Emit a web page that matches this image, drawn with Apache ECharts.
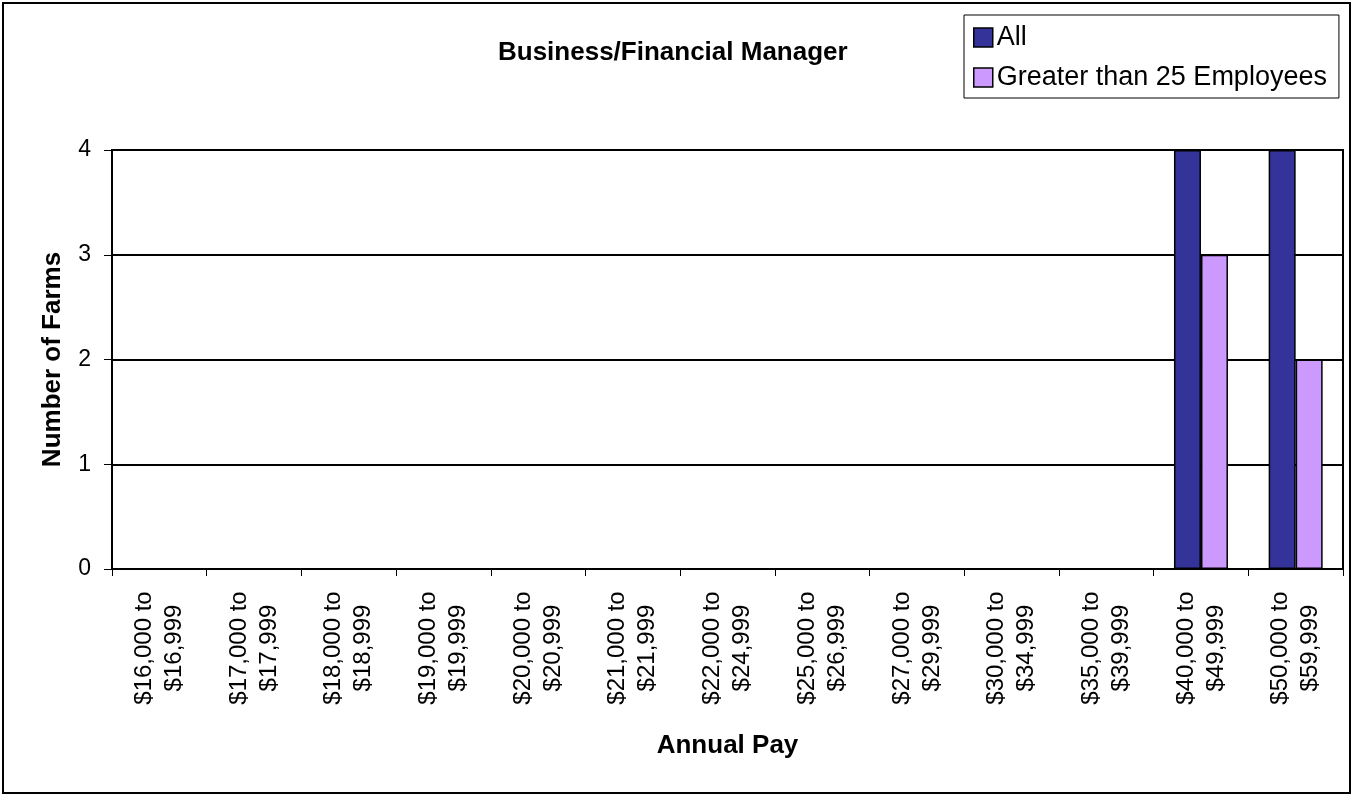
<!DOCTYPE html>
<html>
<head>
<meta charset="utf-8">
<title>Business/Financial Manager</title>
<script src="https://cdn.jsdelivr.net/npm/echarts@6/dist/echarts.min.js"></script>
<style>
  html, body { margin: 0; padding: 0; background: #fff; }
  #chart { width: 1358px; height: 795px; }
</style>
</head>
<body>
<div id="chart"></div>
<script>
// pay bands on the x axis
const payBands = [
  '$16,000 to\n$16,999', '$17,000 to\n$17,999', '$18,000 to\n$18,999',
  '$19,000 to\n$19,999', '$20,000 to\n$20,999', '$21,000 to\n$21,999',
  '$22,000 to\n$24,999', '$25,000 to\n$26,999', '$27,000 to\n$29,999',
  '$30,000 to\n$34,999', '$35,000 to\n$39,999', '$40,000 to\n$49,999',
  '$50,000 to\n$59,999'
];
// number of farms per band
const allFarms = [0, 0, 0, 0, 0, 0, 0, 0, 0, 0, 0, 4, 4];
const bigFarms = [0, 0, 0, 0, 0, 0, 0, 0, 0, 0, 0, 3, 2];
const seriesNames = ['All', 'Greater than 25 Employees'];
const yTicks = [0, 1, 2, 3, 4];

const chart = echarts.init(document.getElementById('chart'));
const font = 'Liberation Sans, Arial, sans-serif';

const option = {
  animation: false,
  backgroundColor: '#fff',
  textStyle: { fontFamily: font, color: '#000' },
  title: {
    text: 'Business/Financial Manager',
    left: 498,
    top: 40,
    padding: 0,
    textStyle: { fontFamily: font, fontSize: 26, fontWeight: 'bold', color: '#000' }
  },
  legend: {
    orient: 'vertical',
    left: 964,
    top: 15,
    padding: [9, 12, 7, 9],
    itemGap: 13,
    itemWidth: 19,
    itemHeight: 19,
    icon: 'rect',
    backgroundColor: '#fff',
    borderColor: '#000',
    borderWidth: 1,
    borderRadius: 0,
    itemStyle: { borderColor: '#000', borderWidth: 1.5 },
    textStyle: { fontFamily: font, fontSize: 27, color: '#000', padding: [0, 0, 0, -1] },
    data: seriesNames
  },
  grid: {
    left: 112,
    right: 15,
    top: 150,
    bottom: 226,
    show: true,
    borderColor: '#000',
    borderWidth: 2,
    containLabel: false
  },
  xAxis: {
    type: 'category',
    data: payBands,
    name: 'Annual Pay',
    nameLocation: 'middle',
    nameGap: 164,
    nameTextStyle: { fontFamily: font, fontSize: 26, fontWeight: 'bold', color: '#000' },
    axisLine: { lineStyle: { color: '#000', width: 2 } },
    axisTick: { show: true, length: 7, lineStyle: { color: '#000', width: 1 } },
    axisLabel: {
      rotate: 90,
      interval: 0,
      align: 'center',
      verticalAlign: 'middle',
      margin: 79,
      fontFamily: font,
      fontSize: 24,
      lineHeight: 30,
      color: '#000'
    }
  },
  yAxis: {
    type: 'value',
    min: yTicks[0],
    max: yTicks[yTicks.length - 1],
    interval: 1,
    name: 'Number of Farms',
    nameLocation: 'middle',
    nameGap: 46,
    nameRotate: 90,
    nameTextStyle: { fontFamily: font, fontSize: 26, fontWeight: 'bold', color: '#000' },
    axisLine: { show: true, lineStyle: { color: '#000', width: 2 } },
    axisTick: { show: true, length: 8, lineStyle: { color: '#000', width: 1 } },
    axisLabel: { margin: 21, fontFamily: font, fontSize: 23, color: '#000' },
    splitLine: { show: true, lineStyle: { color: '#000', width: 2 } }
  },
  series: [
    {
      name: seriesNames[0],
      type: 'bar',
      data: allFarms,
      barWidth: 27,
      barGap: '0%',
      itemStyle: { color: '#333399', borderColor: '#000', borderWidth: 1.5 }
    },
    {
      name: seriesNames[1],
      type: 'bar',
      data: bigFarms,
      barWidth: 27,
      barGap: '0%',
      itemStyle: { color: '#CC99FF', borderColor: '#000', borderWidth: 1.5 }
    }
  ],
  graphic: [
    {
      // outer chart frame
      type: 'rect',
      silent: true,
      z: 100,
      shape: { x: 3, y: 3, width: 1347, height: 790 },
      style: { fill: 'none', stroke: '#000', lineWidth: 2 }
    }
  ]
};

chart.setOption(option);
</script>
</body>
</html>
